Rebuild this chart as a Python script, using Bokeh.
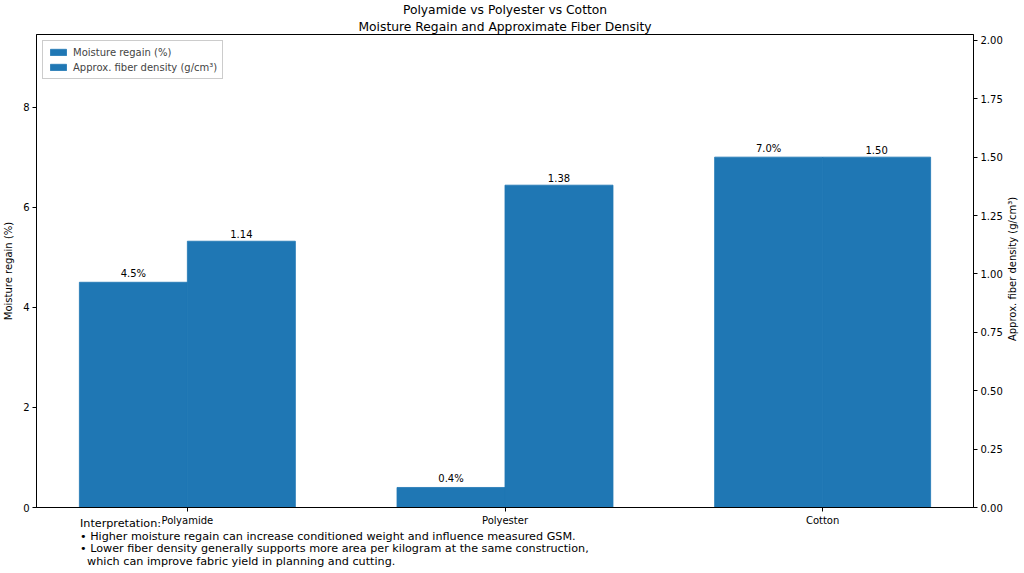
from bokeh.plotting import figure
from bokeh.layouts import column
from bokeh.models import (Range1d, LinearAxis, FixedTicker, ColumnDataSource, LabelSet,
                          Legend, LegendItem, NumeralTickFormatter, Title, Div)
from bokeh.core.properties import value
from bokeh.embed import file_html
from bokeh.resources import INLINE

categories = ["Polyamide", "Polyester", "Cotton"]
moisture = [4.5, 0.4, 7.0]
density = [1.14, 1.38, 1.50]
title_lines = ["Polyamide vs Polyester vs Cotton", "Moisture Regain and Approximate Fiber Density"]
left_label = "Moisture regain (%)"
right_label = "Approx. fiber density (g/cm\u00b3)"
note_lines = ["Interpretation:",
              "\u2022 Higher moisture regain can increase conditioned weight and influence measured GSM.",
              "\u2022 Lower fiber density generally supports more area per kilogram at the same construction,",
              "&nbsp;&nbsp;which can improve fabric yield in planning and cutting."]

FONT = "DejaVu Sans"
COLOR = "#1f77b4"
w = 0.34
xs = list(range(len(categories)))

src = ColumnDataSource(dict(
    xm=[i - w / 2 for i in xs], xd=[i + w / 2 for i in xs],
    m=moisture, d=density,
    ml=[f"{v:.1f}%" for v in moisture], dl=[f"{v:.2f}" for v in density]))

p = figure(width=1008, height=557, x_range=Range1d(-0.475, 2.475), y_range=Range1d(0, 9.45),
           output_backend="svg", toolbar_location=None,
           min_border_left=10, min_border_right=35, min_border_top=28, min_border_bottom=50)
p.extra_y_ranges = {"dens": Range1d(0, 2.025)}

p.title.text = title_lines[0]
p.title.align = "center"
p.title.text_font = FONT
p.title.text_font_style = "normal"
p.title.text_font_size = "12.3px"
p.title.text_color = "black"
p.title.standoff = 0
p.add_layout(Title(text=title_lines[1], align="center", text_font=FONT, text_font_style="normal",
                   text_font_size="12.3px", text_color="black", standoff=2), "above")

r1 = p.vbar(x="xm", top="m", width=w, source=src, fill_color=COLOR, line_color=COLOR, line_width=0.8)
r2 = p.vbar(x="xd", top="d", width=w, source=src, fill_color=COLOR, line_color=COLOR, line_width=0.8,
            y_range_name="dens")

p.add_layout(LabelSet(x="xm", y="m", text="ml", source=src, text_align="center", text_baseline="bottom",
                      y_offset=3, text_font_size=value("10px"), text_font=value(FONT), text_color="black"))
p.add_layout(LabelSet(x="xd", y="d", text="dl", source=src, text_align="center", text_baseline="bottom",
                      y_offset=3, text_font_size=value("10px"), text_font=value(FONT), text_color="black",
                      y_range_name="dens"))

raxis = LinearAxis(y_range_name="dens",
                   ticker=FixedTicker(ticks=[0, 0.25, 0.5, 0.75, 1.0, 1.25, 1.5, 1.75, 2.0]),
                   formatter=NumeralTickFormatter(format="0.00"))
p.add_layout(raxis, "right")

p.xaxis.ticker = FixedTicker(ticks=xs)
p.xaxis.major_label_overrides = {i: c for i, c in enumerate(categories)}
p.yaxis[0].ticker = FixedTicker(ticks=[0, 2, 4, 6, 8])
p.yaxis[0].axis_label = left_label

for ax in p.xaxis + p.yaxis:
    ax.minor_tick_line_color = None
    ax.major_tick_in = 0
    ax.major_tick_out = 4
    ax.major_label_text_font = FONT
    ax.major_label_text_font_size = "10px"
    ax.major_label_text_color = "black"
    ax.axis_label_text_font = FONT
    ax.axis_label_text_font_size = "10px"
    ax.axis_label_text_font_style = "normal"
    ax.axis_label_text_color = "black"
    ax.axis_line_color = "black"
    ax.major_tick_line_color = "black"
    ax.axis_label_standoff = 6
    ax.major_label_standoff = 3

p.xgrid.grid_line_color = None
p.ygrid.grid_line_color = None
p.outline_line_color = "black"
p.outline_line_alpha = 1

legend = Legend(items=[LegendItem(label=left_label, renderers=[r1]),
                       LegendItem(label=right_label, renderers=[r2])],
                location="top_left", label_text_font=FONT, label_text_font_size="10px",
                glyph_width=20, glyph_height=8, label_height=12, spacing=3, padding=5, margin=6,
                border_line_color="#cccccc", border_line_alpha=1)
p.add_layout(legend)

notes = Div(text="<br>".join(note_lines), width=900,
            styles={"margin-top": "-39px", "padding-left": "75px", "font-family": FONT,
                    "font-size": "11.2px", "line-height": "12.5px", "color": "black",
                    "white-space": "nowrap"})

rlabel = Div(text=right_label, width=200, height=14,
             styles={"position": "absolute", "left": "908px", "top": "257px",
                     "transform": "rotate(-90deg)", "text-align": "center",
                     "font-family": FONT, "font-size": "10px", "line-height": "14px",
                     "color": "black", "white-space": "nowrap"})

page = column(p, notes, rlabel, spacing=0)
open("out.html", "w").write(file_html(page, INLINE))
